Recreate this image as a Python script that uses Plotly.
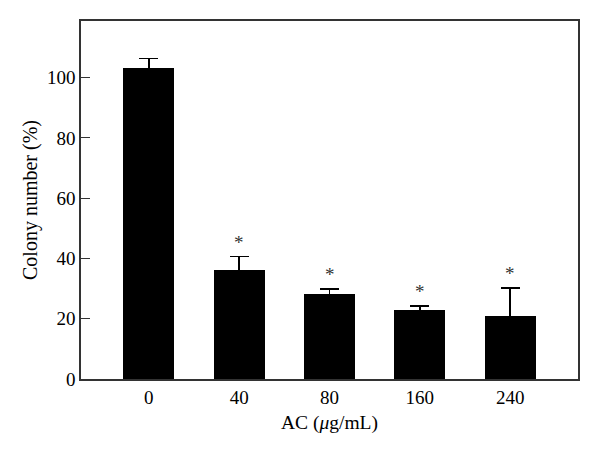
import plotly.graph_objects as go

categories = ["0", "40", "80", "160", "240"]
values = [103.2, 36.1, 28.1, 22.8, 21.0]
errors = [3.2, 4.5, 1.8, 1.5, 9.1]
marks = ["", "*", "*", "*", "*"]

xpos = list(range(len(categories)))
font_family = "Liberation Serif, DejaVu Serif, serif"

fig = go.Figure()
fig.add_trace(go.Bar(
    x=xpos, y=values, width=0.566,
    marker=dict(color="black", line=dict(width=0)),
    error_y=dict(type="data", array=errors, visible=True,
                 color="black", thickness=1.6, width=9.5),
    showlegend=False,
))

for xi, v, e, m in zip(xpos, values, errors, marks):
    if m:
        fig.add_annotation(x=xi, y=v + e, text=m, showarrow=False,
                           yanchor="bottom", yshift=2,
                           font=dict(family=font_family, size=19, color="#333"))

fig.update_layout(
    width=592, height=448,
    margin=dict(l=72.5, r=21.5, t=13.3, b=77),
    paper_bgcolor="white", plot_bgcolor="white",
    font=dict(family=font_family, size=19, color="black"),
    bargap=0,
)
fig.update_xaxes(
    range=[-0.75, 4.75], tickmode="array", tickvals=xpos, ticktext=categories,
    showline=True, mirror=True, linecolor="#333", linewidth=1.5,
    ticks="", showgrid=False, zeroline=False,
    tickfont=dict(size=19), automargin=False,
    title=dict(text="AC (<i>μ</i>g/mL)", font=dict(size=19.5), standoff=9),
)
fig.update_yaxes(
    range=[0, 118.8], tickmode="array", tickvals=[0, 20, 40, 60, 80, 100],
    showline=True, mirror=True, linecolor="#333", linewidth=1.5,
    ticks="inside", ticklen=9, tickwidth=1.3, tickcolor="#333",
    showgrid=False, zeroline=False, automargin=False,
    tickfont=dict(size=19),
    title=dict(text="Colony number (%)", font=dict(size=20), standoff=4),
)

fig.write_html("out.html")
